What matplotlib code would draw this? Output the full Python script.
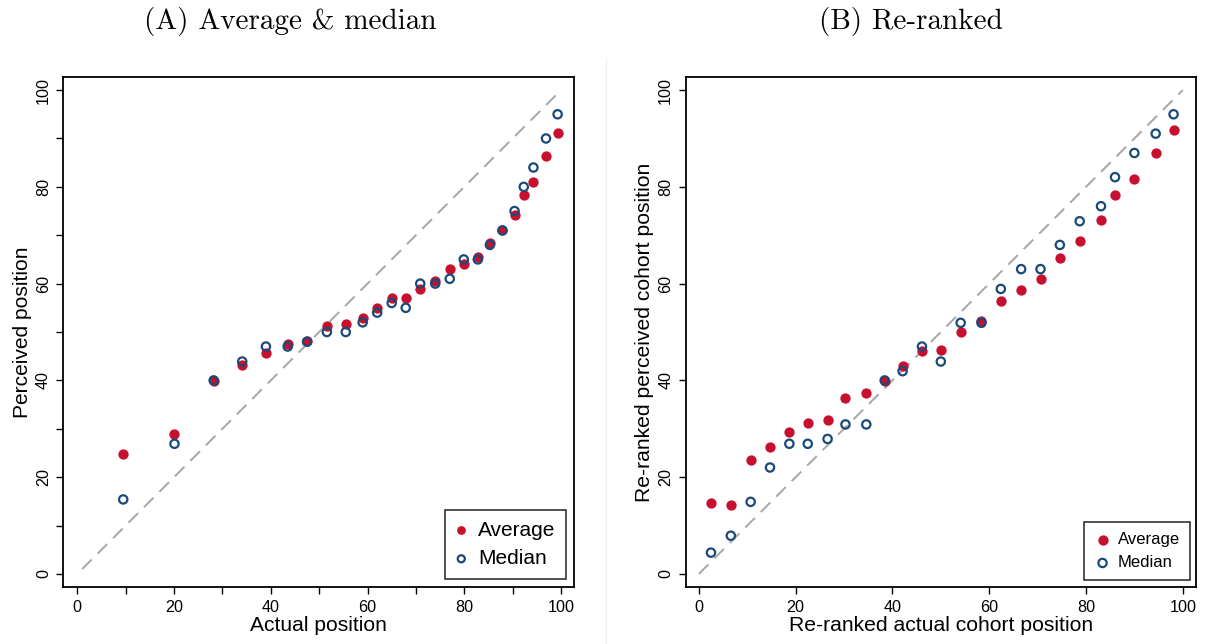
import matplotlib
matplotlib.use("Agg")
import matplotlib.pyplot as plt
import numpy as np

plt.rcParams['font.family'] = ['Liberation Sans', 'DejaVu Sans']

# Panel A data
a_x = [9.5, 20.1, 28.2, 34.1, 39.0, 43.5, 47.5, 51.6, 55.5, 59.0, 62.0, 65.0, 67.9,
       70.9, 74.0, 77.0, 79.9, 82.8, 85.3, 87.9, 90.4, 92.3, 94.3, 96.9, 99.3]
a_avg = [24.7, 28.9, 39.9, 43.2, 45.7, 47.5, 48.1, 51.2, 51.7, 52.8, 55.0, 57.0, 57.0,
         58.9, 60.5, 63.0, 64.1, 65.6, 68.3, 71.0, 74.2, 78.4, 81.0, 86.3, 91.2]
a_med = [15.4, 26.9, 40.0, 43.9, 47.0, 47.0, 48.0, 50.0, 50.0, 52.0, 54.0, 56.0, 55.0,
         60.0, 60.0, 61.0, 65.0, 65.0, 68.0, 71.0, 75.0, 80.0, 84.0, 90.0, 95.0]

# Panel B data
b_x = [2.5, 6.6, 10.7, 14.7, 18.7, 22.5, 26.6, 30.3, 34.6, 38.4, 42.1, 46.1, 50.0,
       54.1, 58.4, 62.4, 66.6, 70.6, 74.6, 78.7, 83.1, 86.0, 90.0, 94.4, 98.1]
b_avg = [14.7, 14.2, 23.5, 26.3, 29.3, 31.2, 31.8, 36.3, 37.4, 39.9, 43.0, 46.1, 46.3,
         49.9, 52.3, 56.5, 58.7, 61.0, 65.2, 68.9, 73.1, 78.4, 81.6, 87.0, 91.7]
b_med = [4.4, 7.9, 14.9, 22.0, 26.9, 26.9, 27.9, 30.9, 30.9, 40.0, 41.9, 47.0, 43.9,
         51.9, 51.9, 58.9, 63.0, 63.0, 68.0, 72.9, 76.0, 82.0, 87.0, 91.0, 95.0]

ticks = [0, 20, 40, 60, 80, 100]
red = '#c8102e'
navy = '#1a4a7a'

fig = plt.figure(figsize=(12.05, 6.44), dpi=100)
axA = fig.add_axes([0.0526, 0.0885, 0.4238, 0.7919])
axB = fig.add_axes([0.5690, 0.0885, 0.4238, 0.7919])

def style(ax):
    for s in ax.spines.values():
        s.set_linewidth(1.3)
        s.set_color('black')
    ax.set_ylim(-2.7, 102.7)
    ax.set_xticks(ticks)
    ax.set_yticks(ticks)
    ax.tick_params(direction='out', length=5, width=1.0, labelsize=11.6, pad=4)
    for lbl in ax.get_yticklabels():
        lbl.set_rotation(90)
        lbl.set_va('center')

# Panel A
axA.plot([1, 99.5], [1, 99.5], ls=(0, (6.5, 4)), color='#aaaaaa', lw=1.5, zorder=1)
axA.scatter(a_x, a_avg, s=55, color=red, zorder=3, label='Average', linewidths=0)
axA.scatter(a_x, a_med, s=36, facecolors='none', edgecolors=navy, linewidths=1.6,
            zorder=4, label='Median')
style(axA)
axA.set_xlim(-2.87, 102.7)
axA.set_xticks(np.arange(0, 101, 10), minor=True)
axA.set_yticks(np.arange(0, 101, 10), minor=True)
axA.tick_params(which='minor', direction='out', length=5, width=1.0)
axA.set_xlabel('Actual position', fontsize=15.1, labelpad=1)
axA.set_ylabel('Perceived position', fontsize=15.1, labelpad=3)
legA = axA.legend(loc='lower right', fontsize=15, frameon=True, fancybox=False,
                  edgecolor='black', handletextpad=0.5, borderpad=0.5,
                  handlelength=0.6, labelspacing=0.45, borderaxespad=0.4,
                  markerscale=0.85)
legA.get_frame().set_linewidth(1.2)

# Panel B
axB.plot([0, 100], [0, 100], ls=(0, (6.5, 4)), color='#aaaaaa', lw=1.5, zorder=1)
axB.scatter(b_x, b_avg, s=55, color=red, zorder=3, label='Average', linewidths=0)
axB.scatter(b_x, b_med, s=36, facecolors='none', edgecolors=navy, linewidths=1.6,
            zorder=4, label='Median')
style(axB)
axB.set_xlim(-2.73, 102.8)
axB.set_xlabel('Re-ranked actual cohort position', fontsize=15.2, labelpad=1)
axB.set_ylabel('Re-ranked perceived cohort position', fontsize=15.2, labelpad=3)
legB = axB.legend(loc='lower right', fontsize=12, frameon=True, fancybox=False,
                  edgecolor='black', handletextpad=0.4, borderpad=0.6,
                  handlelength=1.0, labelspacing=0.5, borderaxespad=0.4)
legB.get_frame().set_linewidth(1.2)

fig.text(0.2405, 0.967, '(A) Average & median', ha='center', va='center', fontsize=21,
         family=['cmr10', 'DejaVu Serif'])
fig.text(0.756, 0.967, '(B) Re-ranked', ha='center', va='center', fontsize=21,
         family=['cmr10', 'DejaVu Serif'])

fig.add_artist(plt.Line2D([0.503, 0.503], [0.0, 0.91], transform=fig.transFigure,
                          color='#f0f0f0', lw=0.8))

fig.savefig('out.png', dpi=100)
